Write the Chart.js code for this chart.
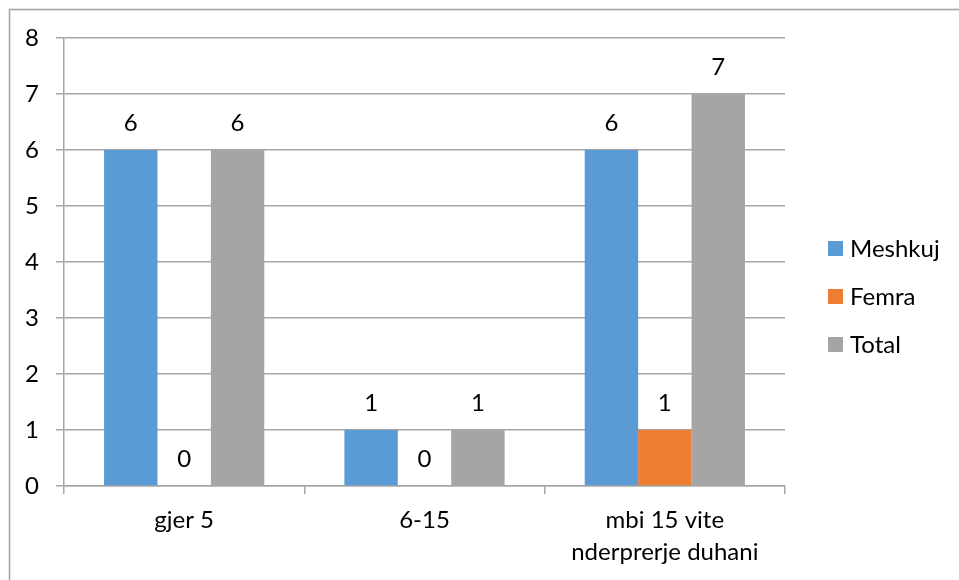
<!DOCTYPE html>
<html>
<head>
<meta charset="utf-8">
<script src="https://cdn.jsdelivr.net/npm/chart.js@4"></script>
<style>
  html, body { margin: 0; padding: 0; background: #fff; }
  #wrap { width: 959px; height: 580px; position: relative; }
</style>
</head>
<body>
<div id="wrap"><canvas id="c" width="959" height="580"></canvas></div>
<script>
const categories = ['gjer 5', '6-15', ['mbi 15 vite', 'nderprerje duhani']];
const seriesNames = ['Meshkuj', 'Femra', 'Total'];
const meshkuj = [6, 1, 6];
const femra = [0, 0, 1];
const total = [6, 1, 7];
const yTicks = [0, 1, 2, 3, 4, 5, 6, 7, 8];

const colors = ['#5B9BD5', '#ED7D31', '#A5A5A5'];
const FONT = 'Lato, "Open Sans", sans-serif';
const FS = 24;

// outer frame around the chart
const framePlugin = {
  id: 'frame',
  beforeDraw(chart) {
    const ctx = chart.ctx;
    ctx.save();
    ctx.fillStyle = '#fff';
    ctx.fillRect(0, 0, chart.width, chart.height);
    ctx.strokeStyle = '#a0a0a0';
    ctx.lineWidth = 1.5;
    ctx.strokeRect(9.5, 9.5, 960, 600);
    ctx.restore();
  }
};

// value labels above each bar
const valueLabels = {
  id: 'valueLabels',
  afterDatasetsDraw(chart) {
    const ctx = chart.ctx;
    ctx.save();
    ctx.font = FS + 'px ' + FONT;
    ctx.fillStyle = '#000';
    ctx.textAlign = 'center';
    ctx.textBaseline = 'middle';
    chart.data.datasets.forEach((ds, i) => {
      chart.getDatasetMeta(i).data.forEach((bar, j) => {
        ctx.fillText(String(ds.data[j]), bar.x, bar.y - 27);
      });
    });
    ctx.restore();
  }
};

// legend on the right
const sideLegend = {
  id: 'sideLegend',
  afterDraw(chart) {
    const ctx = chart.ctx;
    ctx.save();
    ctx.font = FS + 'px ' + FONT;
    ctx.textBaseline = 'middle';
    ctx.textAlign = 'left';
    chart.data.datasets.forEach((ds, i) => {
      const cy = 248.5 + i * 48;
      ctx.fillStyle = ds.backgroundColor;
      ctx.fillRect(828, cy - 7.5, 15, 15);
      ctx.fillStyle = '#000';
      ctx.fillText(ds.label, 850, cy + 1);
    });
    ctx.restore();
  }
};

new Chart(document.getElementById('c'), {
  type: 'bar',
  data: {
    labels: categories,
    datasets: [
      { label: seriesNames[0], data: meshkuj, backgroundColor: colors[0] },
      { label: seriesNames[1], data: femra, backgroundColor: colors[1] },
      { label: seriesNames[2], data: total, backgroundColor: colors[2] }
    ]
  },
  options: {
    responsive: false,
    animation: false,
    devicePixelRatio: 1,
    layout: { padding: { top: 38, right: 174, left: 0, bottom: 0 } },
    datasets: { bar: { categoryPercentage: 2 / 3, barPercentage: 1 } },
    plugins: { legend: { display: false }, tooltip: { enabled: false } },
    scales: {
      x: {
        grid: { offset: true, drawOnChartArea: false, color: '#a6a6a6', tickLength: 8, lineWidth: 1.5 },
        border: { color: '#a6a6a6', width: 1.5 },
        ticks: { color: '#000', font: { family: FONT, size: FS, lineHeight: 1.3 }, padding: 11, maxRotation: 0 },
        afterFit(s) { s.height = 94; }
      },
      y: {
        min: 0, max: 8,
        afterBuildTicks(s) { s.ticks = yTicks.map(v => ({ value: v })); },
        grid: { color: '#a6a6a6', tickLength: 8, lineWidth: 1.5 },
        border: { color: '#a6a6a6', width: 1.5 },
        ticks: { color: '#000', font: { family: FONT, size: FS }, padding: 17 },
        afterFit(s) { s.width = 64; }
      }
    }
  },
  plugins: [framePlugin, valueLabels, sideLegend]
});
</script>
</body>
</html>
